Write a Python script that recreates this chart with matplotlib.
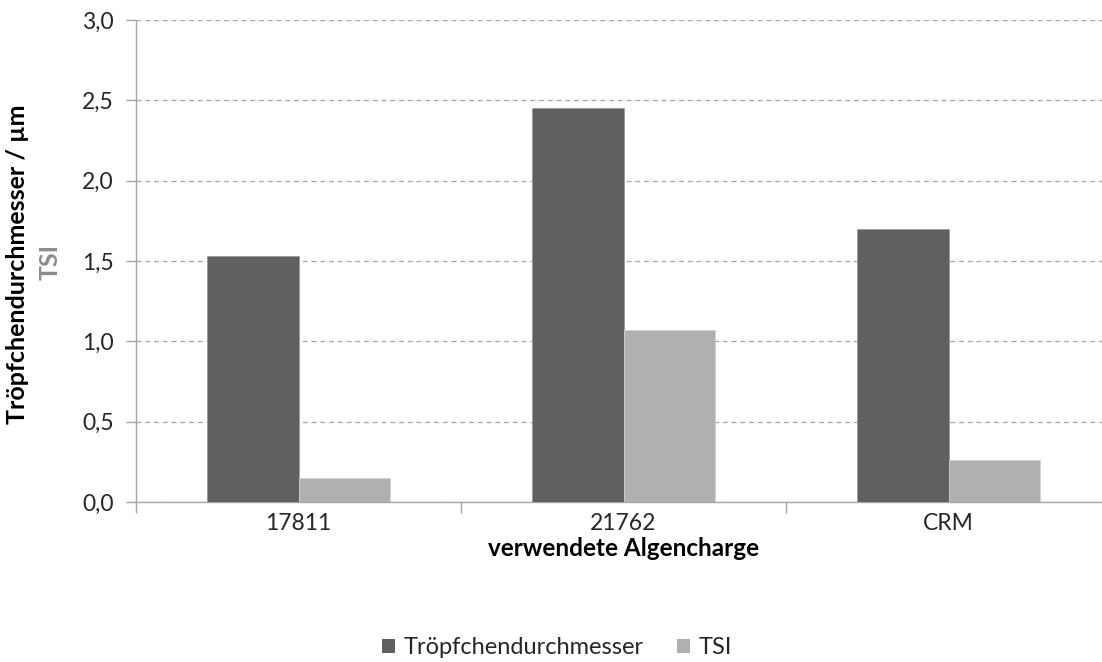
import matplotlib
matplotlib.use("Agg")
import matplotlib.pyplot as plt
import numpy as np
from matplotlib.patches import Patch

categories = ["17811", "21762", "CRM"]
droplet_diameter = [1.53, 2.45, 1.70]
tsi = [0.15, 1.07, 0.26]
y_ticks = [0.0, 0.5, 1.0, 1.5, 2.0, 2.5, 3.0]
y_tick_labels = ["0,0", "0,5", "1,0", "1,5", "2,0", "2,5", "3,0"]
series_names = ["Tröpfchendurchmesser", "TSI"]

dark = "#606060"
light = "#b0b0b0"
axis_grey = "#a6a6a6"
text_col = "#262626"

plt.rcParams["font.family"] = ["Lato", "DejaVu Sans"]

fig = plt.figure(figsize=(11.02, 6.62), dpi=100)
W, H = 1102, 662
x0, x1 = 136, 1111
y0, y1 = 502, 20
ax = fig.add_axes([x0 / W, 1 - y0 / H, (x1 - x0) / W, (y0 - y1) / H])

x = np.arange(len(categories))
bw = 0.2815
ax.bar(x - bw / 2, droplet_diameter, bw, color=dark, edgecolor="#9a9a9a",
       linewidth=0.6, zorder=3)
ax.bar(x + bw / 2, tsi, bw, color=light, edgecolor="#d0d0d0",
       linewidth=0.6, zorder=3)

ax.set_xlim(-0.5, len(categories) - 0.5)
ax.set_ylim(0, 3.0)
ax.set_yticks(y_ticks)
ax.set_yticklabels(y_tick_labels)
ax.yaxis.grid(True, linestyle=(0, (4, 3)), color=axis_grey, linewidth=0.9, zorder=0)
ax.set_axisbelow(True)

# category labels centred under groups, tick marks on boundaries
ax.set_xticks(np.arange(len(categories) + 1) - 0.5)
ax.set_xticklabels([])
ax.set_xticks(x, minor=True)
ax.set_xticklabels(categories, minor=True)
ax.tick_params(axis="x", which="minor", length=0, pad=8, labelsize=16.5,
               labelcolor=text_col)
ax.tick_params(axis="x", which="major", length=8, color=axis_grey, width=1)
ax.tick_params(axis="y", length=7, color=axis_grey, width=1, pad=9,
               labelsize=16.5, labelcolor=text_col)

for side in ["top", "right"]:
    ax.spines[side].set_visible(False)
ax.spines["left"].set_color(axis_grey)
ax.spines["bottom"].set_color(axis_grey)
ax.spines["left"].set_linewidth(1)
ax.spines["bottom"].set_linewidth(1)

ax.set_xlabel("verwendete Algencharge", fontsize=17.5, fontweight="bold",
              color="black", labelpad=2)

fig.text(18 / W, 1 - 264 / H, "Tröpfchendurchmesser / µm", rotation=90,
         ha="center", va="center", fontsize=18, fontweight="bold", color="black")
fig.text(50 / W, 1 - 262 / H, "TSI", rotation=90, ha="center", va="center",
         fontsize=18, fontweight="bold", color="#8c8c8c")

handles = [Patch(facecolor=dark, edgecolor="none"),
           Patch(facecolor=light, edgecolor="none")]
fig.legend(handles, series_names, loc="center", bbox_to_anchor=(557 / W, 1 - 648 / H),
           ncol=2, frameon=False, fontsize=17, handlelength=0.55,
           handleheight=0.55, handletextpad=0.35, columnspacing=1.45,
           labelcolor=text_col, borderpad=0.2)

fig.savefig("out.png", dpi=100)
